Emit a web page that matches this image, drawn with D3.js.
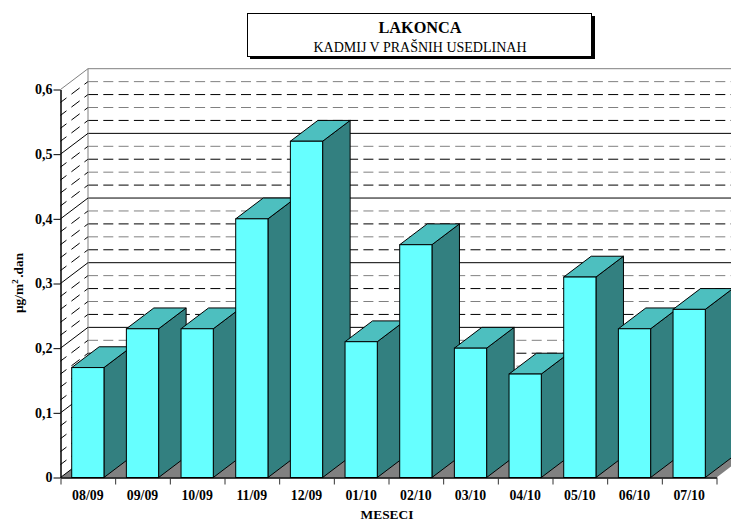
<!DOCTYPE html>
<html><head><meta charset="utf-8">
<script src="https://cdn.jsdelivr.net/npm/d3@7"></script>
<style>html,body{margin:0;padding:0;background:#fff}svg{display:block;font-family:"Liberation Serif",serif}</style>
</head><body><svg id="c" width="731" height="521"></svg>
<script>
const categories=["08/09","09/09","10/09","11/09","12/09","01/10","02/10","03/10","04/10","05/10","06/10","07/10"];
const values=[0.17,0.23,0.23,0.40,0.52,0.21,0.36,0.20,0.16,0.31,0.23,0.26];
const yTickValues=[0,0.1,0.2,0.3,0.4,0.5,0.6];
const yTickLabels=["0","0,1","0,2","0,3","0,4","0,5","0,6"];
const minorValues=d3.range(1,30).filter(i=>i%5!==0).map(i=>i/50);
const titleText="LAKONCA",subtitleText="KADMIJ V PRAŠNIH USEDLINAH",xTitle="MESECI";

const svg=d3.select("#c");
const dx=27.5,dy=20.8,right=731;
const x=d3.scaleBand().domain(categories).range([60.5,716.5]).paddingInner(0.41).paddingOuter(0.205);
const y=d3.scaleLinear().domain([0,0.6]).range([477.5,89.5]);
const x0=60.5,x1=716.5;

// floor
svg.append("polygon").attr("fill","#808080").attr("points",[[x0,y(0)],[x1,y(0)],[x1+dx,y(0)-dy],[x0+dx,y(0)-dy]].join(" "));
// back wall grid
svg.append("g").selectAll("line").data(minorValues).join("line")
 .attr("x1",x0+dx).attr("x2",right).attr("y1",d=>y(d)-dy).attr("y2",d=>y(d)-dy)
 .attr("stroke",d=>Math.round(d*50)%5%2===1?"#000":"#808080")
 .attr("stroke-width",1).attr("stroke-dasharray","10 5.3");
svg.append("g").selectAll("line").data(yTickValues.slice(1)).join("line")
 .attr("x1",x0+dx).attr("x2",right).attr("y1",d=>y(d)-dy).attr("y2",d=>y(d)-dy)
 .attr("stroke",d=>d===0.6?"#808080":"#000").attr("stroke-width",1);
svg.append("line").attr("x1",x0+dx).attr("x2",x0+dx).attr("y1",y(0.6)-dy).attr("y2",y(0)-dy).attr("stroke","#808080");
// side wall
svg.append("g").selectAll("line").data(yTickValues).join("line")
 .attr("x1",x0).attr("x2",x0+dx).attr("y1",d=>y(d)).attr("y2",d=>y(d)-dy)
 .attr("stroke",d=>d===0.6?"#808080":"#000");
svg.append("g").selectAll("line").data(minorValues).join("line")
 .attr("x1",x0).attr("x2",x0+dx).attr("y1",d=>y(d)).attr("y2",d=>y(d)-dy)
 .attr("stroke","#000").attr("stroke-dasharray","7.5 6.2 10.3 6 4.3 50");

// bars
const bars=svg.append("g").selectAll("g").data(categories.map((c,i)=>({c,v:values[i]}))).join("g");
bars.append("polygon").attr("fill","#338080").attr("stroke","#000").attr("stroke-width",1)
 .attr("points",d=>{const r=x(d.c)+x.bandwidth();return [[r,y(d.v)],[r+dx,y(d.v)-dy],[r+dx,y(0)-dy],[r,y(0)]].join(" ");});
bars.append("polygon").attr("fill","#4DBFBF").attr("stroke","#000").attr("stroke-width",1)
 .attr("points",d=>{const l=x(d.c),r=l+x.bandwidth();return [[l,y(d.v)],[r,y(d.v)],[r+dx,y(d.v)-dy],[l+dx,y(d.v)-dy]].join(" ");});
bars.append("rect").attr("fill","#66FFFF").attr("stroke","#000").attr("stroke-width",1)
 .attr("x",d=>x(d.c)).attr("width",x.bandwidth()).attr("y",d=>y(d.v)).attr("height",d=>y(0)-y(d.v));

// axes
const yAxis=d3.axisLeft(y).tickValues(yTickValues).tickFormat((d,i)=>yTickLabels[i]).tickSize(7).tickSizeOuter(0).tickPadding(1);
const gy=svg.append("g").attr("transform",`translate(${x0},0)`).call(yAxis);
gy.select(".domain").attr("stroke","#000").attr("stroke-width",1.5);
gy.selectAll("text").attr("font-family","Liberation Serif").attr("font-weight","bold").attr("font-size",14).attr("fill","#000");
const xAxis=d3.axisBottom(d3.scaleLinear().domain([0,12]).range([x0,x1])).tickValues(d3.range(0,13)).tickFormat("").tickSize(7).tickSizeOuter(0);
const gx=svg.append("g").attr("transform",`translate(0,${y(0)})`).call(xAxis);
gx.select(".domain").attr("stroke","#000").attr("stroke-width",1.5);
gx.selectAll(".tick line").attr("stroke","#333");
svg.append("g").selectAll("text").data(categories).join("text")
 .attr("x",d=>x(d)+x.bandwidth()/2).attr("y",500).attr("text-anchor","middle")
 .attr("font-weight","bold").attr("font-size",13.8).text(d=>d);
svg.append("text").attr("x",387).attr("y",518.5).attr("text-anchor","middle").attr("font-weight","bold").attr("font-size",13.4).text(xTitle);
const yt=svg.append("text").attr("transform","translate(23,283) rotate(-90)").attr("text-anchor","middle").attr("font-weight","bold").attr("font-size",13.4);
yt.append("tspan").text("µg/m");
yt.append("tspan").attr("dy",-5).attr("font-size",9).text("2");
yt.append("tspan").attr("dy",5).attr("dx",1.5).text(".dan");

// title box
svg.append("rect").attr("x",250).attr("y",16).attr("width",345).attr("height",43).attr("fill","#000");
svg.append("rect").attr("x",247.5).attr("y",13.5).attr("width",344).attr("height",43).attr("fill","#fff").attr("stroke","#000");
svg.append("text").attr("x",420).attr("y",33).attr("text-anchor","middle").attr("font-weight","bold").attr("font-size",16.3).text(titleText);
svg.append("text").attr("x",420).attr("y",52).attr("text-anchor","middle").attr("font-size",14).text(subtitleText);
</script></body></html>
